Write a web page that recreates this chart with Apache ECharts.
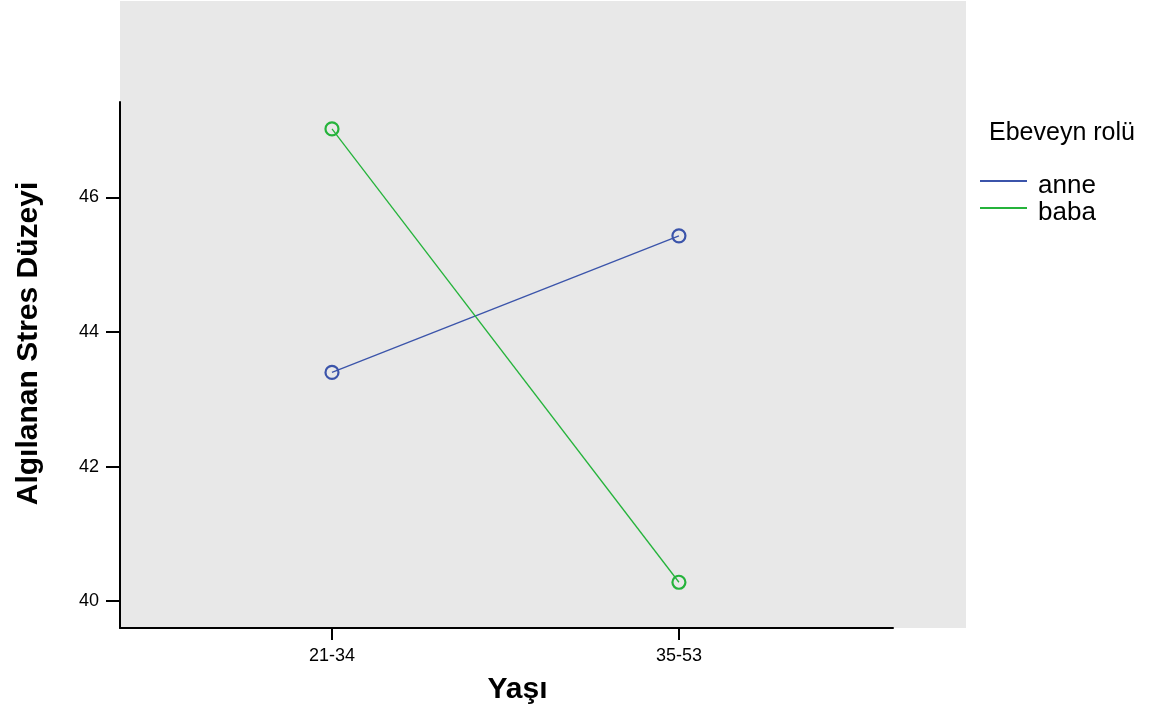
<!DOCTYPE html>
<html>
<head>
<meta charset="utf-8">
<script src="https://cdn.jsdelivr.net/npm/echarts@6/dist/echarts.min.js"></script>
<style>
html,body{margin:0;padding:0;background:#fff;}
#c{width:1159px;height:720px;}
</style>
</head>
<body>
<div id="c"></div>
<script>
var categories = ['21-34', '35-53'];
var anneValues = [43.40, 45.43];
var babaValues = [47.02, 40.28];
var yTicks = [40, 42, 44, 46];
var seriesNames = ['anne', 'baba'];
var colors = ['#3b54aa', '#25b33b'];

function pts(vals) {
  return vals.map(function (v, i) { return [i + 1, v]; });
}
var FONT = '"Liberation Sans", Arial, sans-serif';

function legendFor(i, top) {
  return {
    orient: 'vertical', left: 980, top: top, padding: 0,
    itemWidth: 47, itemHeight: 2, itemGap: 0, icon: 'rect',
    formatter: '{t|{name}}',
    textStyle: {
      fontFamily: FONT, fontSize: 26, color: '#000',
      rich: {t: {fontFamily: FONT, fontSize: 26, lineHeight: 26, color: '#000', padding: [10, 0, 0, 6]}}
    },
    data: [{name: seriesNames[i], itemStyle: {color: colors[i], borderWidth: 0}}]
  };
}

var chart = echarts.init(document.getElementById('c'), null, {renderer: 'canvas'});
chart.setOption({
  animation: false,
  backgroundColor: '#ffffff',
  textStyle: {fontFamily: FONT},
  graphic: [{
    type: 'rect', z: -100, silent: true,
    shape: {x: 120, y: 1, width: 846, height: 627},
    style: {fill: '#e8e8e8'}
  }],
  title: {
    text: 'Ebeveyn rolü', left: 989, top: 121, padding: 0,
    textStyle: {fontFamily: FONT, fontSize: 25, fontWeight: 'normal', color: '#000'}
  },
  legend: [legendFor(0, 163), legendFor(1, 190)],
  grid: {left: 120, right: 266, top: 102, bottom: 92, containLabel: false},
  xAxis: {
    type: 'value', min: 0.389, max: 2.617,
    name: 'Yaşı', nameLocation: 'middle', nameGap: 47,
    nameTextStyle: {fontFamily: FONT, fontSize: 30, fontWeight: 'bold', color: '#000', padding: [0, 0, 0, 22]},
    axisLine: {show: true, onZero: false, lineStyle: {color: '#000', width: 2}},
    axisTick: {show: true, customValues: [1, 2], length: 12, lineStyle: {color: '#000', width: 2}},
    axisLabel: {
      customValues: [1, 2], margin: 19,
      fontFamily: FONT, fontSize: 18, color: '#000',
      formatter: function (v) { return categories[Math.round(v) - 1] || ''; }
    },
    splitLine: {show: false}
  },
  yAxis: {
    type: 'value', min: 39.6, max: 47.42,
    name: 'Algılanan Stres Düzeyi', nameLocation: 'middle', nameGap: 76, nameRotate: 90,
    nameTextStyle: {fontFamily: FONT, fontSize: 30, fontWeight: 'bold', color: '#000', padding: [0, 0, 0, 43]},
    axisLine: {show: true, onZero: false, lineStyle: {color: '#000', width: 2}},
    axisTick: {show: true, customValues: yTicks, length: 14, lineStyle: {color: '#000', width: 2}},
    axisLabel: {customValues: yTicks, margin: 21, fontFamily: FONT, fontSize: 18, color: '#000'},
    splitLine: {show: false}
  },
  series: [
    {
      name: seriesNames[0], type: 'line', data: pts(anneValues),
      symbol: 'circle', symbolSize: 13,
      lineStyle: {color: colors[0], width: 1.3},
      itemStyle: {color: 'rgba(0,0,0,0)', borderColor: colors[0], borderWidth: 2.2},
      emphasis: {disabled: true}
    },
    {
      name: seriesNames[1], type: 'line', data: pts(babaValues),
      symbol: 'circle', symbolSize: 13,
      lineStyle: {color: colors[1], width: 1.3},
      itemStyle: {color: 'rgba(0,0,0,0)', borderColor: colors[1], borderWidth: 2.2},
      emphasis: {disabled: true}
    }
  ]
});
</script>
</body>
</html>
